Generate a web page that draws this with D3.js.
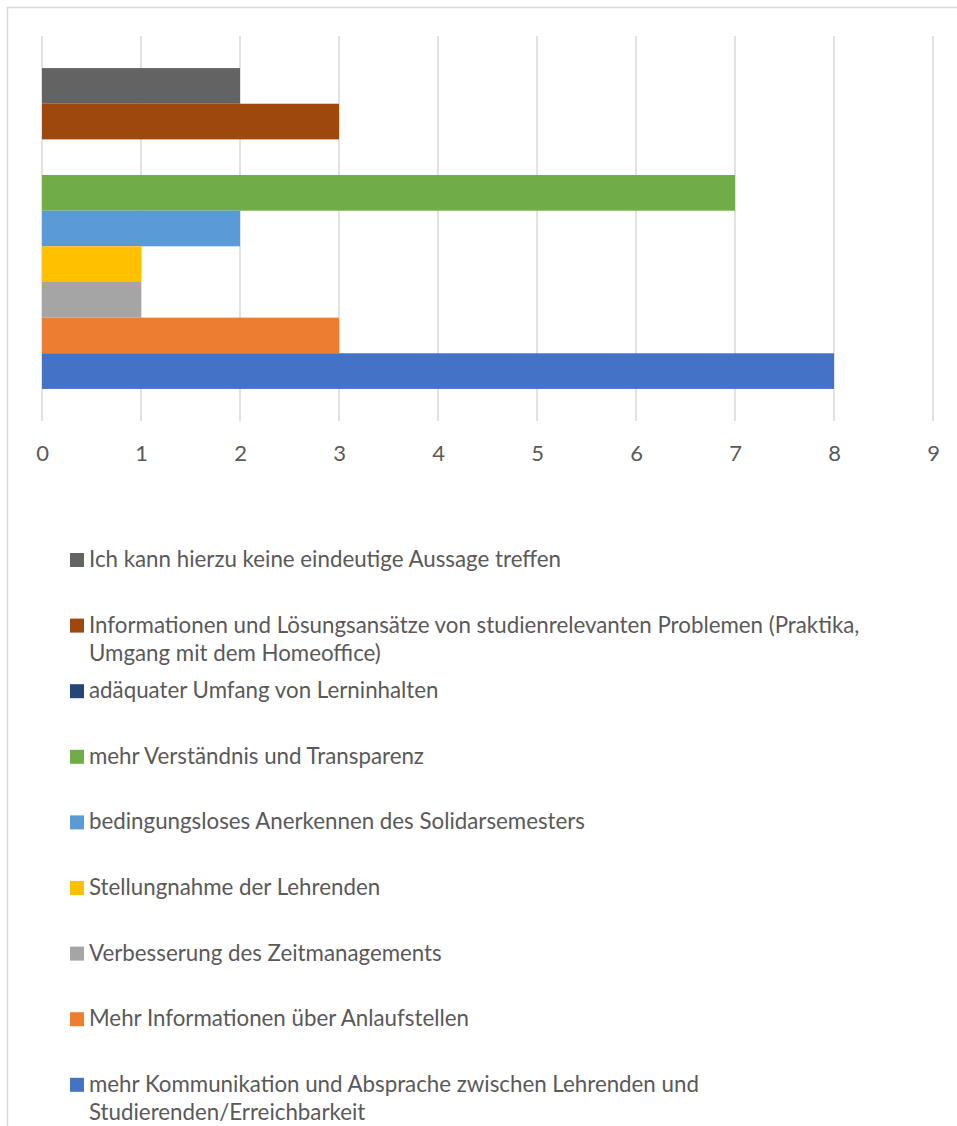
<!DOCTYPE html>
<html>
<head>
<meta charset="utf-8">
<script src="https://cdn.jsdelivr.net/npm/d3@7"></script>
<style>
  html, body { margin: 0; padding: 0; background: #fff; }
  svg { display: block; }
  text { font-family: Lato, "Open Sans", sans-serif; fill: #595959; }
</style>
</head>
<body>
<svg id="chart" width="957" height="1126"></svg>
<script>
// ---- data ----
const seriesNames = [
  "Ich kann hierzu keine eindeutige Aussage treffen",
  "Informationen und Lösungsansätze von studienrelevanten Problemen (Praktika, Umgang mit dem Homeoffice)",
  "adäquater Umfang von Lerninhalten",
  "mehr Verständnis und Transparenz",
  "bedingungsloses Anerkennen des Solidarsemesters",
  "Stellungnahme der Lehrenden",
  "Verbesserung des Zeitmanagements",
  "Mehr Informationen über Anlaufstellen",
  "mehr Kommunikation und Absprache zwischen Lehrenden und Studierenden/Erreichbarkeit"
];
const legendLines = [
  ["Ich kann hierzu keine eindeutige Aussage treffen"],
  ["Informationen und Lösungsansätze von studienrelevanten Problemen (Praktika,", "Umgang mit dem Homeoffice)"],
  ["adäquater Umfang von Lerninhalten"],
  ["mehr Verständnis und Transparenz"],
  ["bedingungsloses Anerkennen des Solidarsemesters"],
  ["Stellungnahme der Lehrenden"],
  ["Verbesserung des Zeitmanagements"],
  ["Mehr Informationen über Anlaufstellen"],
  ["mehr Kommunikation und Absprache zwischen Lehrenden und", "Studierenden/Erreichbarkeit"]
];
const seriesValues = [2, 3, 0, 7, 2, 1, 1, 3, 8];
const seriesColors = ["#636363", "#9E480E", "#264478", "#70AD47", "#5B9BD5", "#FFC000", "#A5A5A5", "#ED7D31", "#4472C4"];
const xTicks = [0, 1, 2, 3, 4, 5, 6, 7, 8, 9];

// ---- layout ----
const svg = d3.select("#chart");
const plot = { left: 42, right: 933, top: 36, bottom: 421 };

// chart frame (cropped at right and bottom)
svg.append("rect")
  .attr("x", 7.5).attr("y", 7.5)
  .attr("width", 1000).attr("height", 1200)
  .attr("fill", "none").attr("stroke", "#D9D9D9").attr("stroke-width", 1.5);

const x = d3.scaleLinear().domain([0, 9]).range([plot.left, plot.right]);
const y = d3.scaleBand().domain(seriesNames).range([plot.top, plot.bottom])
  .paddingInner(0).paddingOuter(0.9);

// gridlines
svg.append("g").selectAll("line").data(xTicks).join("line")
  .attr("x1", d => x(d)).attr("x2", d => x(d))
  .attr("y1", plot.top).attr("y2", plot.bottom)
  .attr("stroke", "#D9D9D9").attr("stroke-width", 1.5);

// bars
svg.append("g").selectAll("rect").data(seriesNames).join("rect")
  .attr("x", x(0))
  .attr("y", d => y(d))
  .attr("width", (d, i) => x(seriesValues[i]) - x(0))
  .attr("height", y.bandwidth())
  .attr("fill", (d, i) => seriesColors[i]);

// x axis labels
const xAxis = d3.axisBottom(x).tickValues(xTicks).tickSize(0).tickPadding(0).tickFormat(d3.format("d"));
const ax = svg.append("g").attr("transform", `translate(0, 445)`).call(xAxis);
ax.select(".domain").remove();
ax.selectAll("text")
  .attr("dy", null).attr("y", 16)
  .style("font-family", "Lato, 'Open Sans', sans-serif")
  .style("font-size", "22px")
  .style("fill", "#595959");

// legend
const ly = d3.scalePoint().domain(seriesNames).range([567, 567 + 65.6 * 8]);
const lg = svg.append("g").selectAll("g").data(seriesNames).join("g")
  .attr("transform", d => `translate(0, ${ly(d)})`);
lg.append("rect")
  .attr("x", 70).attr("y", -14).attr("width", 14).attr("height", 14)
  .attr("fill", (d, i) => seriesColors[i]);
lg.append("text")
  .attr("x", 89).attr("y", 0)
  .style("font-size", "22.3px")
  .selectAll("tspan").data((d, i) => legendLines[i]).join("tspan")
  .attr("x", 89).attr("dy", (d, j) => j === 0 ? 0 : 28)
  .text(d => d);
</script>
</body>
</html>
